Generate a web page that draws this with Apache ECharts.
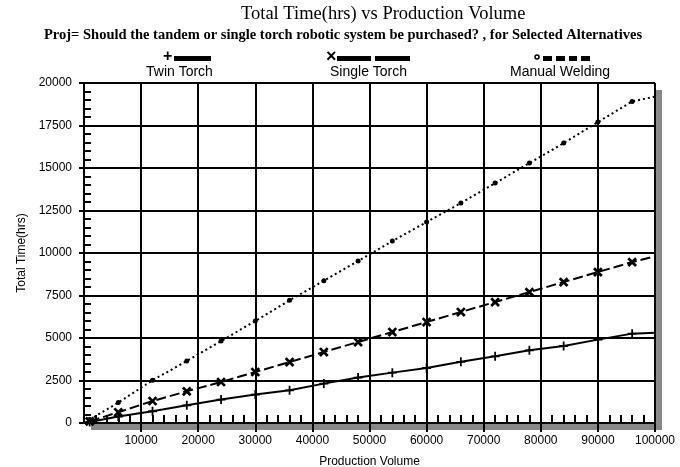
<!DOCTYPE html>
<html>
<head>
<meta charset="utf-8">
<script src="https://cdn.jsdelivr.net/npm/echarts@6/dist/echarts.min.js"></script>
<style>html,body{margin:0;padding:0;background:#fff}#c{width:680px;height:467px}</style>
</head>
<body>
<div id="c"></div>
<script>
var volumes = [1000, 6000, 12000, 18000, 24000, 30000, 36000, 42000, 48000, 54000, 60000, 66000, 72000, 78000, 84000, 90000, 96000, 100000];
var twinTorch = [60, 380, 690, 1040, 1376, 1670, 1923, 2317, 2670, 2963, 3234, 3600, 3922, 4275, 4528, 4904, 5257, 5316];
var singleTorch = [100, 630, 1294, 1864, 2411, 3000, 3587, 4175, 4763, 5351, 5940, 6527, 7115, 7703, 8291, 8879, 9467, 9800];
var manualWelding = [200, 1200, 2510, 3646, 4820, 6000, 7215, 8373, 9526, 10700, 11820, 12936, 14112, 15288, 16464, 17700, 18916, 19200];
var seriesNames = ['Twin Torch', 'Single Torch', 'Manual Welding'];
var titleText = 'Total Time(hrs) vs Production Volume';
var subtitleText = 'Proj= Should the tandem or single torch robotic system be purchased? , for Selected Alternatives';
var xName = 'Production Volume';
var yName = 'Total Time(hrs)';

function pts(vals) {
  return vals.map(function (v, i) {
    var d = { value: [volumes[i], v] };
    if (i === vals.length - 1) d.symbol = 'none';
    return d;
  });
}
var plusPath = 'path://M3.2,0H4.8V8H3.2ZM0,3.2H8V4.8H0Z';
var crossPath = 'path://M3,0H5V8H3ZM0,3H8V5H0Z';
var sans = 'Liberation Sans';
var serif = 'Liberation Serif';
function plain(v) { return String(v); }

var chart = echarts.init(document.getElementById('c'), null, { renderer: 'canvas' });
chart.setOption({
  animation: false,
  backgroundColor: '#fff',
  title: [
    { text: titleText, left: 241, top: 5, padding: 0,
      textStyle: { fontFamily: serif, fontSize: 18.5, fontWeight: 'normal', color: '#000' } },
    { text: subtitleText, left: 44, top: 28, padding: 0,
      textStyle: { fontFamily: serif, fontSize: 14.5, fontWeight: 'bold', color: '#000' } }
  ],
  grid: {
    left: 84, right: 25, top: 83, bottom: 44,
    containLabel: false, outerBoundsMode: 'none',
    show: true, backgroundColor: '#fff', borderWidth: 0,
    shadowColor: '#888', shadowBlur: 0, shadowOffsetX: 7, shadowOffsetY: 7
  },
  xAxis: [
    { type: 'value', min: 0, max: 100000, interval: 10000, position: 'bottom',
      name: xName, nameLocation: 'middle', nameGap: 33,
      nameTextStyle: { fontFamily: sans, fontSize: 12, color: '#000' },
      axisLine: { show: true, lineStyle: { color: '#000', width: 2 } },
      axisTick: { show: true, inside: false, length: 9, lineStyle: { color: '#000', width: 2 } },
      axisLabel: { showMinLabel: false, margin: 12, fontFamily: sans, fontSize: 12, color: '#000', formatter: plain },
      splitLine: { show: true, lineStyle: { color: '#000', width: 2 } } },
    { type: 'value', min: 0, max: 100000, interval: 10000, position: 'bottom',
      axisLine: { show: false }, axisLabel: { show: false }, splitLine: { show: false },
      axisTick: { show: false, inside: true },
      minorTick: { show: true, splitNumber: 5, length: 8, lineStyle: { color: '#000', width: 2 } } }
  ],
  yAxis: [
    { type: 'value', min: 0, max: 20000, interval: 2500, position: 'left',
      name: yName, nameLocation: 'middle', nameGap: 48, nameRotate: 90,
      nameTextStyle: { fontFamily: sans, fontSize: 12, color: '#000' },
      axisLine: { show: true, lineStyle: { color: '#000', width: 2 } },
      axisTick: { show: true, inside: false, length: 5, lineStyle: { color: '#000', width: 2 } },
      axisLabel: { margin: 12, fontFamily: sans, fontSize: 12, color: '#000', formatter: plain },
      splitLine: { show: true, lineStyle: { color: '#000', width: 2 } } },
    { type: 'value', min: 0, max: 20000, interval: 2500, position: 'left',
      axisLine: { show: false }, axisLabel: { show: false }, splitLine: { show: false },
      axisTick: { show: false, inside: true },
      minorTick: { show: true, splitNumber: 5, length: 7, lineStyle: { color: '#000', width: 2 } } }
  ],
  series: [
    { name: seriesNames[0], type: 'line', xAxisIndex: 0, yAxisIndex: 0, data: pts(twinTorch),
      symbol: plusPath, symbolSize: 9, showAllSymbol: true,
      itemStyle: { color: '#000' }, lineStyle: { color: '#000', width: 2, type: 'solid' } },
    { name: seriesNames[1], type: 'line', xAxisIndex: 0, yAxisIndex: 0, data: pts(singleTorch),
      symbol: crossPath, symbolRotate: 45, symbolSize: 11, showAllSymbol: true,
      itemStyle: { color: '#000' }, lineStyle: { color: '#000', width: 2, type: [10, 4] } },
    { name: seriesNames[2], type: 'line', xAxisIndex: 0, yAxisIndex: 0, data: pts(manualWelding),
      symbol: 'circle', symbolSize: 5, showAllSymbol: true,
      itemStyle: { color: '#000' }, lineStyle: { color: '#000', width: 2, type: [2, 3] } }
  ],
  graphic: [
    { type: 'text', left: 163, top: 49, style: { text: '+', font: 'bold 16px ' + sans, fill: '#000' } },
    { type: 'rect', shape: { x: 174, y: 56, width: 37, height: 5 }, style: { fill: '#000' } },
    { type: 'text', left: 146, top: 65, style: { text: seriesNames[0], font: '14px ' + sans, fill: '#000' } },

    { type: 'text', left: 326, top: 48, style: { text: '×', font: 'bold 18px ' + sans, fill: '#000' } },
    { type: 'rect', shape: { x: 337, y: 56, width: 34, height: 5 }, style: { fill: '#000' } },
    { type: 'rect', shape: { x: 375, y: 56, width: 35, height: 5 }, style: { fill: '#000' } },
    { type: 'text', left: 330, top: 65, style: { text: seriesNames[1], font: '14px ' + sans, fill: '#000' } },

    { type: 'circle', shape: { cx: 537, cy: 57, r: 2 }, style: { fill: '#fff', stroke: '#000', lineWidth: 1.5 } },
    { type: 'rect', shape: { x: 543, y: 56, width: 9, height: 5 }, style: { fill: '#000' } },
    { type: 'rect', shape: { x: 556, y: 56, width: 9, height: 5 }, style: { fill: '#000' } },
    { type: 'rect', shape: { x: 569, y: 56, width: 8, height: 5 }, style: { fill: '#000' } },
    { type: 'rect', shape: { x: 581, y: 56, width: 9, height: 5 }, style: { fill: '#000' } },
    { type: 'text', left: 510, top: 65, style: { text: seriesNames[2], font: '14px ' + sans, fill: '#000' } }
  ]
});
</script>
</body>
</html>
